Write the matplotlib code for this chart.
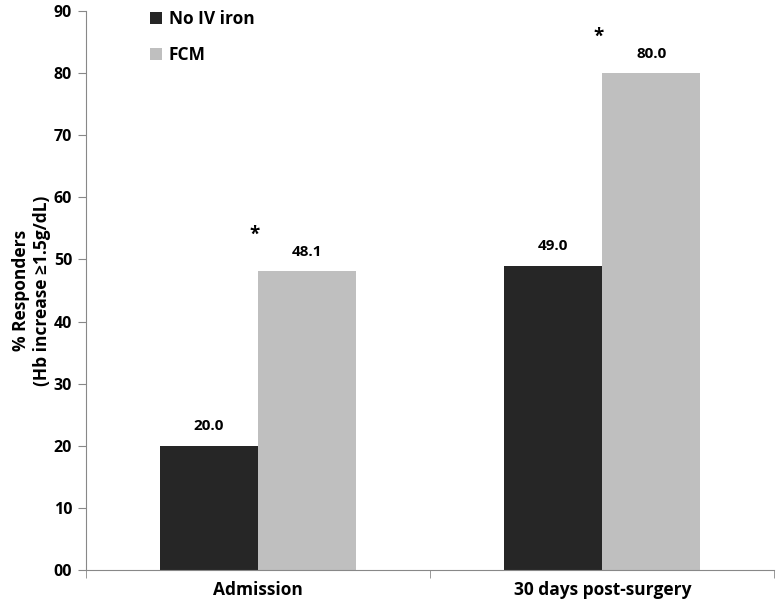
import matplotlib
matplotlib.use("Agg")
import matplotlib.pyplot as plt
import numpy as np

plt.rcParams['font.family'] = ['Open Sans', 'DejaVu Sans']
plt.rcParams['font.weight'] = 'bold'

categories = ["Admission", "30 days post-surgery"]
no_iv = [20.0, 49.0]
fcm = [48.1, 80.0]
series_names = ["No IV iron", "FCM"]
y_ticks = [0, 10, 20, 30, 40, 50, 60, 70, 80, 90]
y_labels = ["00", "10", "20", "30", "40", "50", "60", "70", "80", "90"]

fig = plt.figure(figsize=(7.77, 6.03), dpi=100)
ax = fig.add_axes([0.1107, 0.0547, 0.886, 0.9271])

x = np.arange(len(categories))
w = 0.285
ax.bar(x - w / 2, no_iv, w, color="#262626", label=series_names[0])
ax.bar(x + w / 2, fcm, w, color="#bfbfbf", label=series_names[1])

for i in range(len(categories)):
    ax.text(x[i] - w / 2, no_iv[i] + 2.0, "%.1f" % no_iv[i], ha="center", va="bottom",
            fontsize=11, fontweight="bold")
    ax.text(x[i] + w / 2, fcm[i] + 2.0, "%.1f" % fcm[i], ha="center", va="bottom",
            fontsize=11, fontweight="bold")
    # significance marker
    ax.text(x[i] - 0.01, fcm[i] + 4.3, "*", ha="center", va="bottom",
            fontsize=13.5, fontweight="bold")

ax.set_xlim(-0.5, 1.5)
ax.set_ylim(0, 90)
ax.set_yticks(y_ticks)
ax.set_yticklabels(y_labels, fontsize=11.5, fontweight="bold")
ax.set_xticks(x)
ax.set_xticklabels(categories, fontsize=12.5, fontweight="bold")
ax.tick_params(axis="x", length=0, pad=8)
ax.set_xticks([-0.5, 0.5, 1.5], minor=True)
ax.tick_params(axis="x", which="minor", length=6, color="#888888")
ax.tick_params(axis="y", length=6, color="#888888", pad=4)

for s in ["top", "right"]:
    ax.spines[s].set_visible(False)
for s in ["left", "bottom"]:
    ax.spines[s].set_color("#888888")

ax.set_ylabel("% Responders\n(Hb increase \u22651.5g/dL)", fontsize=12.5, fontweight="bold",
              labelpad=2)

ax.legend(loc="upper left", bbox_to_anchor=(0.07, 1.03), frameon=False,
          handlelength=0.7, handleheight=0.7, handletextpad=0.4, labelspacing=1.05,
          prop={"weight": "bold", "size": 12.5})

fig.savefig("out.png", dpi=100)
